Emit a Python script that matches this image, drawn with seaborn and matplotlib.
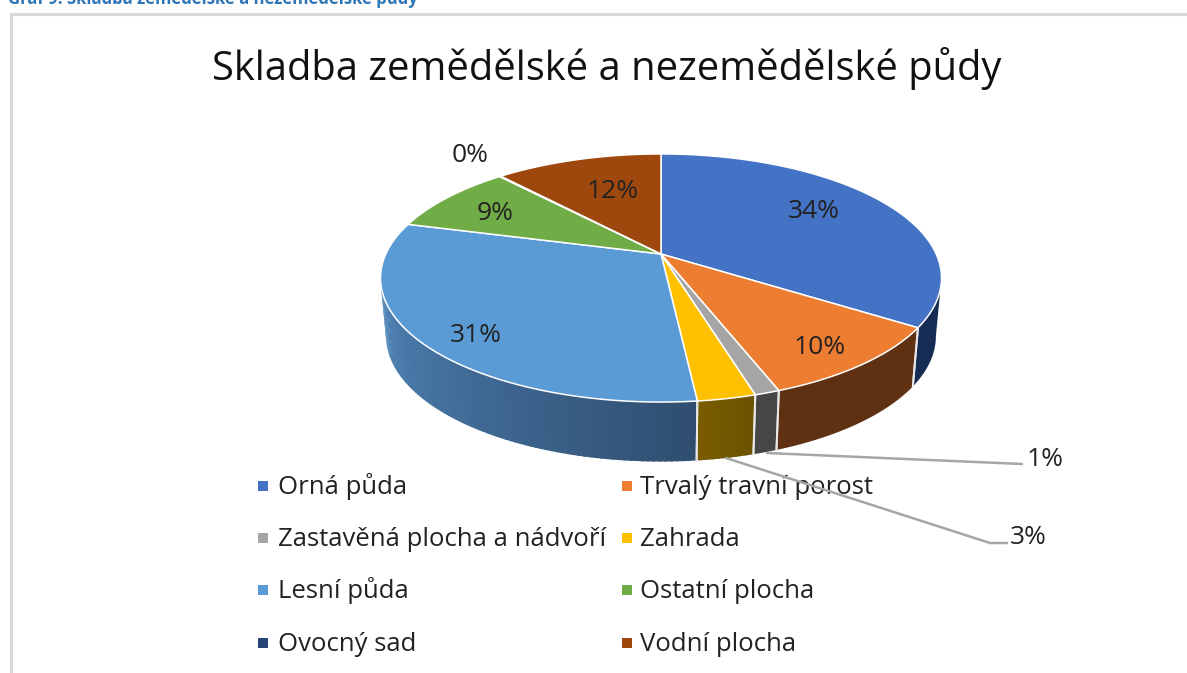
import numpy as np
import matplotlib
matplotlib.use('Agg')
import matplotlib.pyplot as plt
import matplotlib.colors as mcolors
from matplotlib.patches import Rectangle
from matplotlib.lines import Line2D
import seaborn as sns

# hodnoty (%)
categories = ['Orná půda', 'Trvalý travní porost', 'Zastavěná plocha a nádvoří', 'Zahrada',
              'Lesní půda', 'Ostatní plocha', 'Ovocný sad', 'Vodní plocha']
values = [34.3, 10.0, 1.2, 2.8, 30.9, 9.1, 0.1, 11.6]
top_colors = ['#4472c4', '#ed7d31', '#a5a5a5', '#ffc000', '#5b9bd5', '#70ad47', '#264478', '#9e480e']
wall_left = ['#172c54', '#5f3012', '#464646', '#7a5c00', '#5288bd', '#70ad47', '#264478', '#9e480e']
wall_right = ['#172c54', '#5f3012', '#464646', '#6b5200', '#2f4e70', '#70ad47', '#264478', '#9e480e']
title = 'Skladba zemědělské a nezemědělské půdy'
caption = 'Graf 9: Skladba zemědělské a nezemědělské půdy'

sns.set_theme(style='white')
plt.rcParams['font.family'] = ['Open Sans', 'DejaVu Sans']

fig, ax = plt.subplots(figsize=(11.87, 6.73), dpi=100)
ax.set_position([0, 0, 1, 1])
ax.set_xlim(0, 1187)
ax.set_ylim(673, 0)
ax.axis('off')

# perspektiva kolace
cx, cy = 661, 254
A, B, k = 275.2, 119.4, 0.1935
depth = 58


def top_xy(deg):
    a = np.radians(deg)
    x, y = np.sin(a), np.cos(a)
    w = 1 + k * y
    return cx + A * x / w, cy - B * y / w


def bottom_xy(deg):
    a = np.radians(deg)
    x, y = np.sin(a), np.cos(a)
    w = 1 + k * y
    return cx + 0.98 * A * x / w, cy + depth - 1.01 * B * y / w


edges = np.concatenate([[0], np.cumsum(values)]) / np.sum(values) * 360
sil_r = np.degrees(np.arccos(-k))
sil_l = 360 - sil_r

# boky kolace (jen predni cast)
for i in range(len(values)):
    a0 = max(edges[i], sil_r)
    a1 = min(edges[i + 1], sil_l)
    if a1 <= a0:
        continue
    steps = 1 if wall_left[i] == wall_right[i] else max(int(a1 - a0), 1)
    angs = np.linspace(a0, a1, steps + 1)
    c_r = np.array(mcolors.to_rgb(wall_right[i]))
    c_l = np.array(mcolors.to_rgb(wall_left[i]))
    # sousedni pruhy se prekryvaji, aby nebyly videt spary
    for j in range(steps):
        t = (j + 0.5) / steps
        col = c_r * (1 - t) + c_l * t
        seg = np.linspace(angs[j], min(angs[j + 1] + 0.5, a1), 30 if steps == 1 else 3)
        xt, yt = top_xy(seg)
        xb, yb = bottom_xy(seg)
        ax.fill(np.r_[xt, xb[::-1]], np.r_[yt, yb[::-1]], color=col, lw=0, zorder=2)
    for e in (a0, a1):
        if e in (sil_r, sil_l):
            continue
        xt, yt = top_xy(e)
        xb, yb = bottom_xy(e)
        ax.plot([xt, xb], [yt, yb], color='#e8e8e8', lw=1.4, zorder=3)

# vrch kolace
for i in range(len(values)):
    angs = np.linspace(edges[i], edges[i + 1], 80)
    xs, ys = top_xy(angs)
    ax.fill(np.r_[cx, xs], np.r_[cy, ys], facecolor=top_colors[i], edgecolor='white',
            lw=1.1, zorder=4, joinstyle='round')

# popisky
label_pos = [(814, 212), (820, 347), (1045, 459), (1028, 538),
             (476, 335), (495, 214), (470, 156), (613, 191)]
for v, (lx, ly) in zip(values, label_pos):
    ax.text(lx, ly, f'{round(v)}%', fontsize=19, color='#222222', ha='center', va='center', zorder=6)

# odkazove cary
ax.plot([767, 1022], [453, 464], color='#a6a6a6', lw=1.8, zorder=5)
ax.plot([726, 990, 1007], [458, 543, 543], color='#a6a6a6', lw=1.8, zorder=5)

# titulek a ramecek
ax.text(607, 68, title, fontsize=28.7, color='#111111', ha='center', va='center', zorder=6)
ax.text(8, -1, caption, fontsize=12, fontweight='bold', color='#2e75b6', ha='left', va='center')
ax.add_line(Line2D([11, 1187], [13.5, 13.5], color='#d9d9d9', lw=2.2))
ax.add_line(Line2D([11, 11], [13.5, 673], color='#d9d9d9', lw=2.2))

# legenda: dva sloupce po radcich, rucne kvuli stejne rozteci radku
row_y = [486, 538, 590, 643]
col_x = [258, 622]
text_x = [278, 640]
for i, name in enumerate(categories):
    col = i % 2
    row = i // 2
    ax.add_patch(Rectangle((col_x[col], row_y[row] - 5), 10, 10, facecolor=top_colors[i], edgecolor='none', zorder=3))
    ax.text(text_x[col], row_y[row] + 8, name, fontsize=18.5, color='#222222', ha='left', va='baseline', zorder=3)

fig.savefig('out.png', dpi=100)
